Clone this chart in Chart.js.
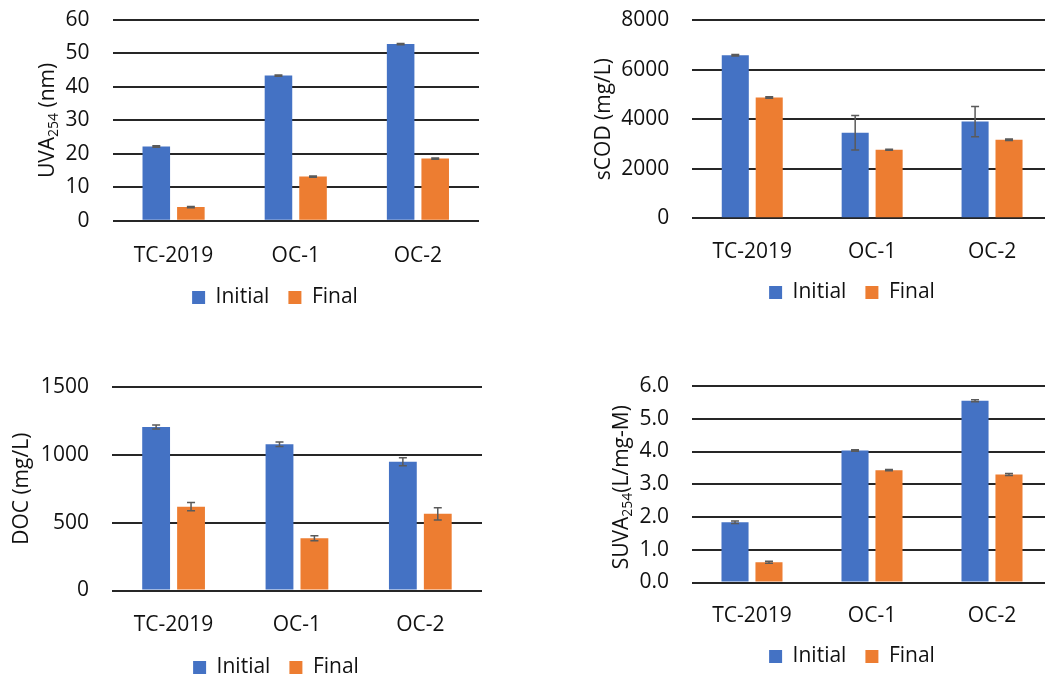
<!DOCTYPE html>
<html>
<head>
<meta charset="utf-8">
<script src="https://cdn.jsdelivr.net/npm/chart.js@4.4.1/dist/chart.umd.min.js"></script>
<style>
  html, body { margin: 0; padding: 0; background: #fff; }
  body { width: 1045px; height: 674px; overflow: hidden; position: relative; }
  canvas { position: absolute; }
</style>
</head>
<body>
<canvas id="uva"></canvas>
<canvas id="scod"></canvas>
<canvas id="doc"></canvas>
<canvas id="suva"></canvas>
<script>
// Sample sites shared by every panel
const sites = ['TC-2019', 'OC-1', 'OC-2'];
const seriesNames = ['Initial', 'Final'];

// UVA254 (nm)
const uvaInitial = [22.2, 43.4, 52.8];
const uvaInitialErr = [0.2, 0.2, 0.2];
const uvaFinal = [4.1, 13.2, 18.6];
const uvaFinalErr = [0.2, 0.2, 0.2];
const uvaTicks = ['0', '10', '20', '30', '40', '50', '60'];

// sCOD (mg/L)
const scodInitial = [6580, 3450, 3900];
const scodInitialErr = [30, 700, 610];
const scodFinal = [4870, 2760, 3170];
const scodFinalErr = [30, 20, 30];
const scodTicks = ['0', '2000', '4000', '6000', '8000'];

// DOC (mg/L)
const docInitial = [1205, 1078, 949];
const docInitialErr = [15, 16, 30];
const docFinal = [618, 385, 565];
const docFinalErr = [30, 18, 45];
const docTicks = ['0', '500', '1000', '1500'];

// SUVA254 (L/mg-M)
const suvaInitial = [1.84, 4.03, 5.55];
const suvaInitialErr = [0.04, 0.02, 0.03];
const suvaFinal = [0.62, 3.43, 3.30];
const suvaFinalErr = [0.03, 0.02, 0.03];
const suvaTicks = ['0.0', '1.0', '2.0', '3.0', '4.0', '5.0', '6.0'];

const BLUE = '#4472C4';
const ORANGE = '#ED7D31';
const FONT = { family: '"Open Sans", "Noto Sans", sans-serif', size: 21 };
const TEXT = '#111111';

// Standard-deviation whiskers drawn over each bar
const errorBarPlugin = {
  id: 'errorBars',
  afterDatasetsDraw(chart) {
    const { ctx } = chart;
    const y = chart.scales.y;
    ctx.save();
    ctx.strokeStyle = '#5a5a5a';
    ctx.lineWidth = 1.5;
    chart.data.datasets.forEach((ds, i) => {
      const meta = chart.getDatasetMeta(i);
      meta.data.forEach((bar, j) => {
        const v = ds.data[j], e = ds.errorBars[j];
        const top = y.getPixelForValue(v + e);
        const bot = y.getPixelForValue(v - e);
        const cap = 4;
        ctx.beginPath();
        ctx.moveTo(bar.x, top); ctx.lineTo(bar.x, bot);
        ctx.moveTo(bar.x - cap, top); ctx.lineTo(bar.x + cap, top);
        ctx.moveTo(bar.x - cap, bot); ctx.lineTo(bar.x + cap, bot);
        ctx.stroke();
      });
    });
    ctx.restore();
  }
};

// Rotated y-axis title that supports subscript runs
const yTitlePlugin = {
  id: 'yTitle',
  afterDraw(chart, args, opts) {
    if (!opts || !opts.parts) return;
    const { ctx, chartArea } = chart;
    const size = FONT.size, subSize = Math.round(size * 0.68);
    const mainFont = `${size}px ${FONT.family}`;
    const subFont = `${subSize}px ${FONT.family}`;
    ctx.save();
    let total = 0;
    opts.parts.forEach(p => {
      ctx.font = p.sub ? subFont : mainFont;
      p.w = ctx.measureText(p.t).width;
      total += p.w;
    });
    const cy = (chartArea.top + chartArea.bottom) / 2 + (opts.dy || 0);
    ctx.translate(opts.x, cy);
    ctx.rotate(-Math.PI / 2);
    ctx.fillStyle = TEXT;
    ctx.textBaseline = 'middle';
    ctx.textAlign = 'left';
    let x = -total / 2;
    opts.parts.forEach(p => {
      ctx.font = p.sub ? subFont : mainFont;
      ctx.fillText(p.t, x, p.sub ? size * 0.28 : 0);
      x += p.w;
    });
    ctx.restore();
  }
};

// Centre the legend row on a chosen x once the layout is settled
const legendCenterPlugin = {
  id: 'legendCenter',
  afterLayout(chart, args, opts) {
    const L = chart.legend;
    if (!L || opts.cx == null) return;
    const w = L.right - L.left;
    L.left = opts.cx - w / 2;
    L.right = opts.cx + w / 2;
  }
};

function makePanel(id, g, initial, initialErr, final, finalErr, ticks, titleParts) {
  const legendPad = 19, itemH = FONT.size;
  const topPad = 40;
  const canvasTop = g.plotTop - topPad;
  const padRight = 5;
  const width = g.plotRight + padRight - g.canvasLeft;
  const height = g.legendY + itemH / 2 + 10 - canvasTop;
  const legendTop = g.legendY - itemH / 2 - legendPad;
  const yAxisW = g.plotLeft - g.canvasLeft;
  const xAxisH = legendTop - g.plotBottom;

  const cv = document.getElementById(id);
  cv.width = Math.round(width);
  cv.height = Math.round(height);
  cv.style.left = g.canvasLeft + 'px';
  cv.style.top = canvasTop + 'px';
  cv.style.width = Math.round(width) + 'px';
  cv.style.height = Math.round(height) + 'px';

  const tickVals = ticks.map(Number);
  return new Chart(cv, {
    type: 'bar',
    data: {
      labels: sites,
      datasets: [
        { label: seriesNames[0], data: initial, errorBars: initialErr, backgroundColor: BLUE },
        { label: seriesNames[1], data: final, errorBars: finalErr, backgroundColor: ORANGE }
      ]
    },
    options: {
      responsive: false,
      animation: false,
      devicePixelRatio: 1,
      layout: { padding: { left: 0, right: padRight, top: topPad, bottom: 0 } },
      datasets: { bar: { categoryPercentage: 0.566, barPercentage: 0.797 } },
      scales: {
        x: {
          grid: { display: false },
          border: { display: false },
          ticks: { font: FONT, color: TEXT, padding: g.xPad, maxRotation: 0 },
          afterFit(s) { s.height = xAxisH; }
        },
        y: {
          min: tickVals[0],
          max: tickVals[tickVals.length - 1],
          border: { display: false },
          grid: { color: '#262626', lineWidth: 2, drawTicks: false },
          ticks: {
            stepSize: tickVals[1] - tickVals[0],
            font: FONT, color: TEXT, padding: 23,
            callback: (v, i) => ticks[i]
          },
          afterFit(s) { s.width = yAxisW; }
        }
      },
      plugins: {
        legend: {
          position: 'bottom',
          labels: { font: FONT, color: TEXT, boxWidth: 13, boxHeight: 13, padding: legendPad }
        },
        legendCenter: { cx: g.legendX - g.canvasLeft },
        tooltip: { enabled: false },
        yTitle: { x: g.titleX - g.canvasLeft, parts: titleParts, dy: g.titleDy || 0 }
      }
    },
    plugins: [errorBarPlugin, yTitlePlugin, legendCenterPlugin]
  });
}

makePanel('uva',
  { canvasLeft: 0, plotLeft: 112.5, plotTop: 20.3, plotRight: 479, plotBottom: 221.3,
    legendX: 275, legendY: 298, xPad: 14.4, titleX: 48 },
  uvaInitial, uvaInitialErr, uvaFinal, uvaFinalErr, uvaTicks,
  [{ t: 'UVA' }, { t: '254', sub: true }, { t: ' (nm)' }]);

makePanel('scod',
  { canvasLeft: 560, plotLeft: 692.3, plotTop: 19.8, plotRight: 1052, plotBottom: 217.7,
    legendX: 852, legendY: 292, xPad: 13, titleX: 604 },
  scodInitial, scodInitialErr, scodFinal, scodFinalErr, scodTicks,
  [{ t: 'sCOD (mg/L)' }]);

makePanel('doc',
  { canvasLeft: 0, plotLeft: 111.9, plotTop: 387, plotRight: 481.5, plotBottom: 590.7,
    legendX: 276, legendY: 667.7, xPad: 14, titleX: 22 },
  docInitial, docInitialErr, docFinal, docFinalErr, docTicks,
  [{ t: 'DOC (mg/L)' }]);

makePanel('suva',
  { canvasLeft: 560, plotLeft: 692, plotTop: 385.7, plotRight: 1052, plotBottom: 582.3,
    legendX: 852, legendY: 656.3, xPad: 13.4, titleX: 622, titleDy: 3 },
  suvaInitial, suvaInitialErr, suvaFinal, suvaFinalErr, suvaTicks,
  [{ t: 'SUVA' }, { t: '254', sub: true }, { t: '(L/mg-M)' }]);
</script>
</body>
</html>
